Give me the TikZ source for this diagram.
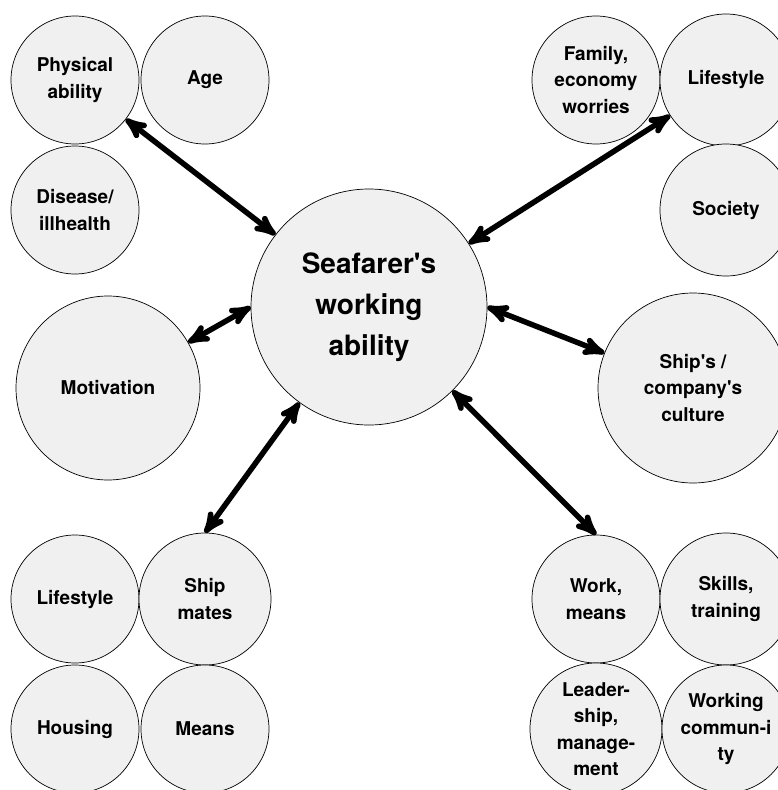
\documentclass[tikz,border=0pt]{standalone}
\usepackage{fontspec}
\setmainfont{TeX Gyre Heros}
\usetikzlibrary{arrows}
\definecolor{bubble}{HTML}{F0F0F0}

\begin{document}
\begin{tikzpicture}[x=1pt,y=-1pt,node distance=130pt,>=stealth']
		\tikzstyle{factor}=[circle, draw=black, fill=bubble, line width=0.7pt, minimum size=128pt, inner sep=0pt, align=center, font=\fontsize{19}{26.5}\selectfont\bfseries]
		\tikzstyle{big factor}=[factor, minimum size=184pt]
		\tikzstyle{core}=[factor, minimum size=236pt, font=\fontsize{28}{41}\selectfont\bfseries]
		\tikzstyle{link}=[<->, line width=5.5pt, draw=black]

		\useasboundingbox (0,0) rectangle (778,790);

		\node [core] (swa) at (369,307) {Seafarer\textquotesingle s\\working\\ability};

		\node [factor] (pa) at (75,80) {Physical\\ability};
		\node [factor] (age) [right of=pa] {Age};
		\node [factor] (dis) [below of=pa] {Disease/\\illhealth};

		\node [factor] (fam) at (596,80) {Family,\\economy\\worries};
		\node [factor,minimum size=132pt] (lifetr) [right of=fam] {Lifestyle};
		\node [factor,minimum size=132pt] (soc) [below of=lifetr] {Society};

		\node [big factor] (mot) at (108,388) {Motivation};
		\node [big factor,minimum size=190pt] (cult) at (693,388) {Ship\textquotesingle s /\\company\textquotesingle s\\culture};

		\node [factor] (lifebl) at (75,599) {Lifestyle};
		\node [factor,minimum size=132pt] (mates) [right of=lifebl] {Ship\\mates};
		\node [factor] (hous) [below of=lifebl] {Housing};
		\node [factor] (means) [right of=hous] {Means};

		\node [factor] (work) at (596,599) {Work,\\means};
		\node [factor,minimum size=132pt] (skills) [right of=work] {Skills,\\training};
		\node [factor,minimum size=132pt] (lead) [below of=work] {Leader-\\ship,\\manage-\\ment};
		\node [factor] (comm) [below of=skills] {Working\\commun-i\\ty};

		\draw [link] (swa) -- (pa);
		\draw [link] (swa) -- (lifetr);
		\draw [link] (swa.west) -- (mot);
		\draw [link] (swa.east) -- (cult);
		\draw [link] (swa) -- (mates.north);
		\draw [link] (swa) -- (work.north);
	\end{tikzpicture}
\end{document}
